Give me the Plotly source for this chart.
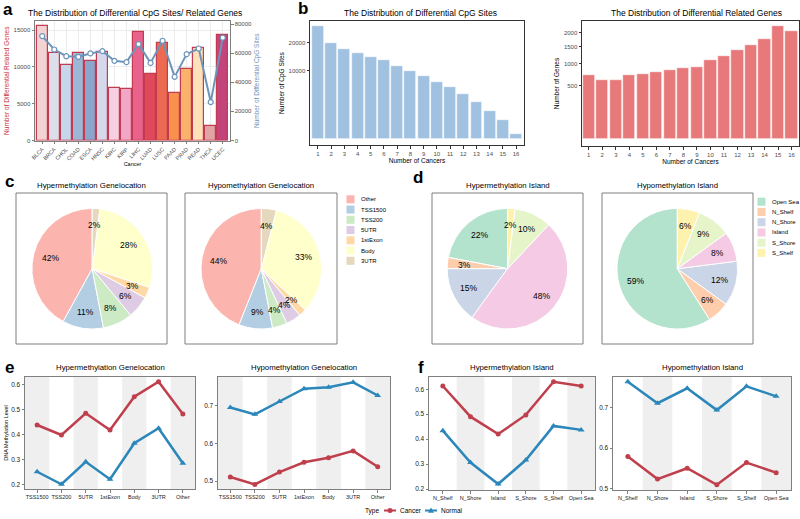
import numpy as np
import plotly.graph_objects as go

W, H = 800, 519
FONT = "Liberation Sans, Arial, sans-serif"


def px(x):
    return x / W


def py(y):
    return 1 - y / H


# ---------------- data ----------------
cancers = ["BLCA", "BRCA", "CHOL", "COAD", "ESCA", "HNSC", "KIRC", "KIRP",
           "LIHC", "LUAD", "LUSC", "PAAD", "PRAD", "READ", "THCA", "UCEC"]
related_genes = [15550, 11900, 10300, 11950, 10800, 12050, 7200, 7050,
                 14700, 9000, 13300, 6500, 9650, 12600, 1950, 14400]
cpg_sites = [71700, 62500, 57900, 57500, 59800, 61400, 54700, 53800,
             66200, 53300, 68500, 43700, 59300, 63200, 26400, 70600]
cancer_colors = ["#f3d2d3", "#dcdee9", "#c7d7eb", "#9db7d7", "#8ba6cd", "#d5d9eb",
                 "#f6cfe3", "#f3a7c7", "#e8628b", "#e0495a", "#ec6b50", "#f7914c",
                 "#fab26c", "#fde1b9", "#e2a3a5", "#c3447b"]

n_cancers = list(range(1, 17))
cpg_by_n = [27600, 20050, 17400, 16100, 14650, 13400, 11530, 10100,
            8500, 7030, 5920, 4380, 3010, 1695, 756, 65]
genes_by_n = [718, 625, 610, 715, 755, 786, 834, 890,
              915, 1110, 1225, 1406, 1544, 1756, 2228, 2060]
cpg_ticks = [10000, 20000]
gene_ticks = [500, 1000, 1500, 2000]

geneloc_labels = ["Other", "TSS1500", "TSS200", "5UTR", "1stExon", "Body", "3UTR"]
geneloc_colors = ["#fbb4ae", "#b3cde3", "#ccebc5", "#decbe4", "#fed9a6", "#ffffcc", "#e5d8bd"]
hyper_geneloc = [42, 11, 8, 6, 3, 28, 2]
hypo_geneloc = [44, 9, 4, 4, 2, 33, 4]

island_labels = ["Open Sea", "N_Shelf", "N_Shore", "Island", "S_Shore", "S_Shelf"]
island_colors = ["#b3e2cd", "#fdcdac", "#cbd5e8", "#f4cae4", "#e6f5c9", "#fff2ae"]
hyper_island = [22, 3, 15, 48, 10, 2]
hypo_island = [59, 6, 12, 8, 9, 6]

geneloc_cats = ["TSS1500", "TSS200", "5UTR", "1stExon", "Body", "3UTR", "Other"]
e_hyper_cancer = [0.437, 0.397, 0.484, 0.417, 0.550, 0.610, 0.481]
e_hyper_normal = [0.250, 0.200, 0.290, 0.220, 0.364, 0.424, 0.284]
e_hypo_cancer = [0.511, 0.491, 0.524, 0.550, 0.562, 0.580, 0.538]
e_hypo_normal = [0.695, 0.677, 0.711, 0.745, 0.749, 0.762, 0.727]

island_cats = ["N_Shelf", "N_Shore", "Island", "S_Shore", "S_Shelf", "Open Sea"]
f_hyper_cancer = [0.613, 0.490, 0.420, 0.497, 0.630, 0.613]
f_hyper_normal = [0.434, 0.306, 0.220, 0.316, 0.453, 0.437]
f_hypo_cancer = [0.579, 0.523, 0.550, 0.509, 0.564, 0.539]
f_hypo_normal = [0.764, 0.711, 0.748, 0.694, 0.753, 0.728]

type_labels = ["Cancer", "Normal"]

CANCER_COL = "#bf3f4d"
NORMAL_COL = "#2b87ba"
TICK_COL = "#4d4d4d"
FRAME_COL = "#7f7f7f"

fig = go.Figure()

# ---------------- panel a ----------------
fig.add_trace(go.Bar(x=cancers, y=related_genes, width=0.9,
                     marker=dict(color=cancer_colors, line=dict(color="#c23b50", width=1.2)),
                     xaxis="x", yaxis="y", showlegend=False))
fig.add_trace(go.Scatter(x=cancers, y=cpg_sites, mode="lines+markers",
                         line=dict(color="#6d94b9", width=2),
                         marker=dict(color="white", size=5, line=dict(color="#6d94b9", width=1.2)),
                         xaxis="x", yaxis="y2", showlegend=False))

# ---------------- panel b ----------------
fig.add_trace(go.Bar(x=n_cancers, y=np.sqrt(cpg_by_n), width=0.9,
                     marker=dict(color="#a0c1e0", line=dict(color="white", width=0.6)),
                     xaxis="x2", yaxis="y3", showlegend=False))
fig.add_trace(go.Bar(x=n_cancers, y=np.sqrt(genes_by_n), width=0.9,
                     marker=dict(color="#e8797b", line=dict(color="white", width=0.6)),
                     xaxis="x3", yaxis="y4", showlegend=False))

# ---------------- panels c, d (pies) ----------------
PIE_R = 60.3
PIE_CY = 268.7
LABEL_R = 43.5
pies = [
    (geneloc_labels, hyper_geneloc, geneloc_colors, 92.2),
    (geneloc_labels, hypo_geneloc, geneloc_colors, 261.3),
    (island_labels, hyper_island, island_colors, 507.5),
    (island_labels, hypo_island, island_colors, 677.3),
]
annotations = []
for labels, vals, cols, cx in pies:
    total = float(sum(vals))
    # plotly's counterclockwise layout ends the first slice at the start angle;
    # rotate so that the first slice starts at 12 o'clock going counterclockwise
    rot = -vals[0] / total * 360.0
    fig.add_trace(go.Pie(labels=labels, values=vals, sort=False, direction="counterclockwise",
                         rotation=rot, textinfo="none",
                         marker=dict(colors=cols, line=dict(color="white", width=1)),
                         domain=dict(x=[px(cx - PIE_R), px(cx + PIE_R)],
                                     y=[py(PIE_CY + PIE_R), py(PIE_CY - PIE_R)]),
                         showlegend=False))
    cum = 0.0
    for v in vals:
        mid = (cum + v / 2) / total * 2 * np.pi
        cum += v
        lx = cx - LABEL_R * np.sin(mid)
        ly = PIE_CY - LABEL_R * np.cos(mid)
        annotations.append(dict(x=px(lx), y=py(ly), xref="paper", yref="paper",
                                xanchor="center", yanchor="middle",
                                text=f"{v}%", showarrow=False,
                                font=dict(family=FONT, size=8.5, color="black")))

# ---------------- panels e, f (lines) ----------------
line_sets = [
    (geneloc_cats, e_hyper_cancer, e_hyper_normal, "x4", "y5"),
    (geneloc_cats, e_hypo_cancer, e_hypo_normal, "x5", "y6"),
    (island_cats, f_hyper_cancer, f_hyper_normal, "x6", "y7"),
    (island_cats, f_hypo_cancer, f_hypo_normal, "x7", "y8"),
]
for cats, can, nor, xa, ya in line_sets:
    fig.add_trace(go.Scatter(x=cats, y=can, mode="lines+markers", name=type_labels[0],
                             showlegend=False,
                             line=dict(color=CANCER_COL, width=2.5),
                             marker=dict(symbol="circle", size=5, color=CANCER_COL),
                             xaxis=xa, yaxis=ya))
    fig.add_trace(go.Scatter(x=cats, y=nor, mode="lines+markers", name=type_labels[1],
                             showlegend=False,
                             line=dict(color=NORMAL_COL, width=2.5),
                             marker=dict(symbol="triangle-up", size=6, color=NORMAL_COL),
                             xaxis=xa, yaxis=ya))

shapes = []
# alternating bands
band_specs = [("x4", "y5", len(geneloc_cats), 0), ("x5", "y6", len(geneloc_cats), 0),
              ("x6", "y7", len(island_cats), 1), ("x7", "y8", len(island_cats), 1)]
for xa, ya, n, start in band_specs:
    for i in range(start, n, 2):
        shapes.append(dict(type="rect", xref=xa, yref=f"{ya} domain", x0=i - 0.5, x1=i + 0.5,
                           y0=0, y1=1, fillcolor="#efefef", line=dict(width=0), layer="below"))

# pie boxes
for x0, x1 in [(16, 167), (185, 337), (432, 583), (602, 753)]:
    shapes.append(dict(type="rect", xref="paper", yref="paper", x0=px(x0), x1=px(x1),
                       y0=py(344), y1=py(193), line=dict(color=FRAME_COL, width=1),
                       fillcolor="rgba(0,0,0,0)"))

# pie legends
for labels, cols, lx, ly0 in [(geneloc_labels, geneloc_colors, 346.5, 199.3),
                              (island_labels, island_colors, 757.5, 201.7)]:
    for k, (lab, col) in enumerate(zip(labels, cols)):
        yy = ly0 + k * 10.25
        shapes.append(dict(type="rect", xref="paper", yref="paper",
                           x0=px(lx), x1=px(lx + 8), y0=py(yy + 4), y1=py(yy - 4),
                           fillcolor=col, line=dict(width=0)))
        annotations.append(dict(x=px(lx + 12), y=py(yy), xref="paper", yref="paper",
                                text=lab, showarrow=False, xanchor="left", yanchor="middle",
                                font=dict(family=FONT, size=6, color="black")))

# bottom "Type" legend (compact, ggplot style)
LEG_Y = 510.5
annotations.append(dict(x=px(381), y=py(LEG_Y), xref="paper", yref="paper", text="Type",
                        showarrow=False, xanchor="right", yanchor="middle",
                        font=dict(family=FONT, size=6.5, color="black")))
for lab, col, sx, sym in [(type_labels[0], CANCER_COL, 384.0, "circle"),
                          (type_labels[1], NORMAL_COL, 425.0, "triangle")]:
    shapes.append(dict(type="line", xref="paper", yref="paper", x0=px(sx), x1=px(sx + 12),
                       y0=py(LEG_Y), y1=py(LEG_Y), line=dict(color=col, width=2)))
    mx = sx + 6
    if sym == "circle":
        shapes.append(dict(type="circle", xref="paper", yref="paper",
                           x0=px(mx - 2.5), x1=px(mx + 2.5), y0=py(LEG_Y + 2.5), y1=py(LEG_Y - 2.5),
                           fillcolor=col, line=dict(width=0)))
    else:
        path = (f"M {px(mx - 3)} {py(LEG_Y + 2.2)} L {px(mx + 3)} {py(LEG_Y + 2.2)} "
                f"L {px(mx)} {py(LEG_Y - 3)} Z")
        shapes.append(dict(type="path", xref="paper", yref="paper", path=path,
                           fillcolor=col, line=dict(width=0)))
    annotations.append(dict(x=px(sx + 14), y=py(LEG_Y), xref="paper", yref="paper", text=lab,
                            showarrow=False, xanchor="left", yanchor="middle",
                            font=dict(family=FONT, size=6.5, color="black")))

# titles
titles = [
    ("The Distribution of Differential CpG Sites/ Related Genes", 135, 13, 8.5),
    ("The Distribution of Differential CpG Sites", 420, 13, 8.5),
    ("The Distribution of Differential Related Genes", 696, 13, 8.5),
    ("Hypermethylation Genelocation", 91.5, 186, 7.8),
    ("Hypomethylation Genelocation", 261, 186, 7.8),
    ("Hypermethylation Island", 507.5, 186, 7.8),
    ("Hypomethylation Island", 677.5, 186, 7.8),
    ("Hypermethylation Genelocation", 110, 367.5, 7.8),
    ("Hypomethylation Genelocation", 304, 367.5, 7.8),
    ("Hypermethylation Island", 512, 367.5, 7.8),
    ("Hypomethylation Island", 702, 367.5, 7.8),
]
for t, x, y, s in titles:
    annotations.append(dict(x=px(x), y=py(y), xref="paper", yref="paper", text=t,
                            xanchor="center", yanchor="middle",
                            showarrow=False, font=dict(family=FONT, size=s, color="black")))

for t, x, y in [("a", 8, 9), ("b", 303, 8), ("c", 9, 181), ("d", 418, 177),
                ("e", 9, 367), ("f", 421, 367)]:
    annotations.append(dict(x=px(x), y=py(y), xref="paper", yref="paper",
                            xanchor="center", yanchor="middle",
                            text=f"<b>{t}</b>", showarrow=False,
                            font=dict(family=FONT, size=17, color="black")))


def tfont(s=6, c=TICK_COL):
    return dict(family=FONT, size=s, color=c)


def frame_axis(**kw):
    d = dict(showline=True, linecolor=FRAME_COL, linewidth=1, mirror=True,
             ticks="outside", ticklen=2.5, tickcolor=FRAME_COL, showgrid=False,
             zeroline=False, tickfont=tfont(), automargin=False)
    d.update(kw)
    return d


layout = dict(
    width=W, height=519, margin=dict(l=0, r=0, t=0, b=0, autoexpand=False),
    paper_bgcolor="white", plot_bgcolor="white",
    font=dict(family=FONT),
    bargap=0, showlegend=False,
    # panel a
    xaxis=frame_axis(domain=[px(35), px(230)], anchor="y", range=[-0.6, 15.6],
                     tickangle=-45, tickfont=tfont(5.5), showgrid=True, gridcolor="#ececec",
                     title=dict(text="Cancer", font=tfont(5.5, "black"), standoff=1)),
    yaxis=frame_axis(domain=[py(140.5), py(21)], anchor="x", range=[0, 16240],
                     tickvals=[0, 5000, 10000, 15000], tickformat="d", showgrid=True,
                     gridcolor="#ececec",
                     title=dict(text="Number of Differential Related Genes",
                                font=tfont(6.5, "#c8323f"), standoff=3)),
    yaxis2=frame_axis(overlaying="y", side="right", anchor="x", range=[0, 82070],
                      tickvals=[0, 20000, 40000, 60000, 80000], tickformat="d",
                      mirror=False,
                      title=dict(text="Number of Differential CpG Sites",
                                 font=tfont(6.5, "#6d94b9"), standoff=3)),
    # panel b
    xaxis2=frame_axis(domain=[px(310), px(524)], anchor="y3", range=[0.4, 16.6],
                      tickvals=n_cancers, linecolor="#333", tickcolor="#333",
                      title=dict(text="Number of Cancers", font=tfont(6.5, "black"), standoff=1)),
    yaxis3=frame_axis(domain=[py(145), py(21)], anchor="x2", range=[-8.8, 173.5],
                      tickvals=list(np.sqrt(cpg_ticks)), ticktext=[str(v) for v in cpg_ticks],
                      linecolor="#333", tickcolor="#333",
                      title=dict(text="Number of CpG Sites", font=tfont(6.5, "black"), standoff=3)),
    xaxis3=frame_axis(domain=[px(582), px(799)], anchor="y4", range=[0.5, 16.55],
                      tickvals=n_cancers, linecolor="#333", tickcolor="#333",
                      title=dict(text="Number of Cancers", font=tfont(6.5, "black"), standoff=1)),
    yaxis4=frame_axis(domain=[py(146), py(21)], anchor="x3", range=[-2.8, 49.5],
                      tickvals=list(np.sqrt(gene_ticks)), ticktext=[str(v) for v in gene_ticks],
                      linecolor="#333", tickcolor="#333",
                      title=dict(text="Number of Genes", font=tfont(6.5, "black"), standoff=3)),
    # panel e
    xaxis4=frame_axis(domain=[px(25), px(195)], anchor="y5", range=[-0.5, 6.5],
                      tickfont=tfont(5.5, "#222")),
    yaxis5=frame_axis(domain=[py(489), py(377)], anchor="x4", range=[0.181, 0.629],
                      tickvals=[0.2, 0.3, 0.4, 0.5, 0.6], tickformat=".1f",
                      tickfont=tfont(6.5, "#222"),
                      title=dict(text="DNA Methylation Level", font=tfont(5.5, "black"), standoff=2)),
    xaxis5=frame_axis(domain=[px(218), px(390)], anchor="y6", range=[-0.5, 6.5],
                      tickfont=tfont(5.5, "#222")),
    yaxis6=frame_axis(domain=[py(489), py(377)], anchor="x5", range=[0.479, 0.776],
                      tickvals=[0.5, 0.6, 0.7], tickformat=".1f", tickfont=tfont(6.5, "#222")),
    # panel f
    xaxis6=frame_axis(domain=[px(429), px(595)], anchor="y7", range=[-0.5, 5.5],
                      tickfont=tfont(5.5, "#222")),
    yaxis7=frame_axis(domain=[py(490), py(377)], anchor="x6", range=[0.196, 0.649],
                      tickvals=[0.2, 0.3, 0.4, 0.5, 0.6], tickformat=".1f",
                      tickfont=tfont(6.5, "#222")),
    xaxis7=frame_axis(domain=[px(613), px(791)], anchor="y8", range=[-0.5, 5.5],
                      tickfont=tfont(5.5, "#222")),
    yaxis8=frame_axis(domain=[py(490), py(377)], anchor="x7", range=[0.496, 0.776],
                      tickvals=[0.5, 0.6, 0.7], tickformat=".1f", tickfont=tfont(6.5, "#222")),
    annotations=annotations,
    shapes=shapes,
)
fig.update_layout(**layout)
fig.write_html("out.html", config={"displayModeBar": False},
               post_script="document.body.style.margin='0px';")
